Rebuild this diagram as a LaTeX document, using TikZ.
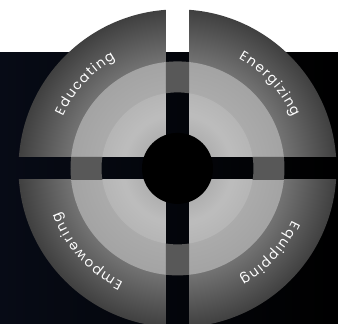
\documentclass[tikz,border=0pt]{standalone}
\usepackage{fontspec}
\usepackage{xcolor}
\usetikzlibrary{decorations.text}
\newfontfamily\lblfont{Poppins}
\definecolor{bgnavy}{RGB}{7,11,22}
\definecolor{gapgray}{RGB}{88,88,88}
\pgfdeclareradialshading{outerring}{\pgfpoint{0bp}{0bp}}{color(0bp)=(black!55); color(16.8bp)=(black!55); color(25bp)=(black!75); color(50bp)=(black!75)}
\pgfdeclareradialshading{midring}{\pgfpoint{0bp}{0bp}}{color(0bp)=(black!33); color(17.8bp)=(black!33); color(25bp)=(black!36); color(50bp)=(black!36)}
\pgfdeclareradialshading{innerdisk}{\pgfpoint{0bp}{0bp}}{color(0bp)=(black!36); color(11.7bp)=(black!31); color(18bp)=(black!26); color(25bp)=(black!29); color(50bp)=(black!29)}

\begin{document}
\fontsize{13.5pt}{16pt}\selectfont
\begin{tikzpicture}[x=1pt, y=1pt,
  lbl/.style={decorate, decoration={text along path, text color=white, text align=center,
    text={|\lblfont|#1}}},
  hub/.style={circle, fill=black, inner sep=0pt, minimum size=71pt}]
\useasboundingbox (-177.5,-155.6) rectangle (160.5,168.4);
\fill[white] (-177.5,-155.6) rectangle (160.5,168.4);
\shade[left color=bgnavy, middle color=black, right color=black] (-177.5,-155.6) rectangle (160.5,115.7);
% four quarters, cut apart by the cross
\foreach \sx/\sy in {-1/1,1/1,-1/-1,1/-1}{
  \begin{scope}
    \clip (\sx*11.6,\sy*11.6) rectangle (\sx*170,\sy*170);
    \shade[shading=outerring] (0,0) circle (159pt);
    \shade[shading=midring] (0,0) circle (107pt);
    \shade[shading=innerdisk] (0,0) circle (76pt);
  \end{scope}
}
% middle ring runs on through the gaps
\begin{scope}
  \clip (-11.6,-170) rectangle (11.6,170) (-170,-11.6) rectangle (170,11.6);
  \fill[gapgray, even odd rule] (0,0) circle (107pt) circle (76pt);
\end{scope}
\node[hub] (hub) at (0,0) {};
% labels on the outer ring (letter-spaced)
\path[lbl={{E\kern1.4pt}{d\kern1.4pt}{u\kern1.4pt}{c\kern1.4pt}{a\kern1.4pt}{t\kern1.4pt}{i\kern1.4pt}{n\kern1.4pt}g}] (177.5:126pt) arc[start angle=177.5, end angle=97.5, radius=126pt];
\path[lbl={{E\kern1.4pt}{n\kern1.4pt}{e\kern1.4pt}{r\kern1.4pt}{g\kern1.4pt}{i\kern1.4pt}{z\kern1.4pt}{i\kern1.4pt}{n\kern1.4pt}g}] (82.5:126pt) arc[start angle=82.5, end angle=2.5, radius=126pt];
\path[lbl={{E\kern1.4pt}{m\kern1.4pt}{p\kern1.4pt}{o\kern1.4pt}{w\kern1.4pt}{e\kern1.4pt}{r\kern1.4pt}{i\kern1.4pt}{n\kern1.4pt}g}] (262.5:126pt) arc[start angle=262.5, end angle=182.5, radius=126pt];
\path[lbl={{E\kern1.4pt}{q\kern1.4pt}{u\kern1.4pt}{i\kern1.4pt}{p\kern1.4pt}{p\kern1.4pt}{i\kern1.4pt}{n\kern1.4pt}g}] (357.5:126pt) arc[start angle=357.5, end angle=277.5, radius=126pt];
\end{tikzpicture}
\end{document}
